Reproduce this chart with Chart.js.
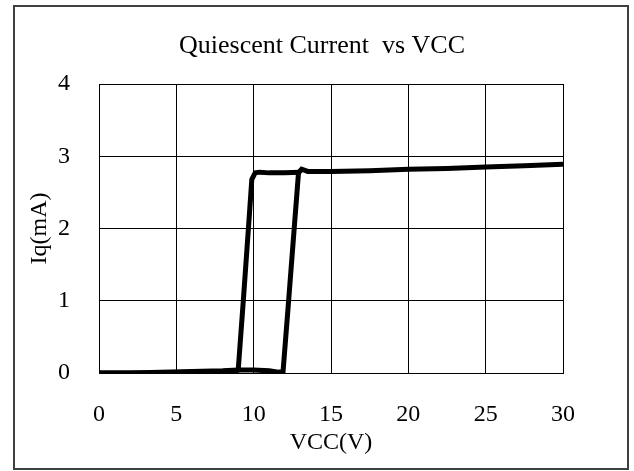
<!DOCTYPE html>
<html>
<head>
<meta charset="utf-8">
<script src="https://cdn.jsdelivr.net/npm/chart.js@4"></script>
<style>
  body { margin: 0; background: #fff; }
  #wrap { width: 634px; height: 471px; }
</style>
</head>
<body>
<div id="wrap"><canvas id="iq-chart"></canvas></div>
<script>
// rising sweep (VCC going up)
const vccUp = [0, 2, 4, 6, 8, 9, 10, 11, 11.6, 11.9, 12.26, 12.62, 12.9, 13.1, 13.5, 15, 17.5, 20, 22.5, 25, 27.5, 30];
const iqUp  = [0, 0, 0.01, 0.02, 0.03, 0.04, 0.04, 0.03, 0.01, 0.02, 1.0, 2.0, 2.77, 2.82, 2.79, 2.79, 2.80, 2.82, 2.83, 2.85, 2.87, 2.89];

// falling sweep (VCC going down)
const vccDown = [0, 2, 4, 6, 8, 8.9, 9.0, 9.33, 9.66, 9.88, 10.1, 10.4, 11, 12, 13];
const iqDown  = [0, 0, 0, 0.01, 0.02, 0.03, 0.04, 1.0, 2.0, 2.68, 2.77, 2.78, 2.77, 2.77, 2.78];

const xTicks = [0, 5, 10, 15, 20, 25, 30];
const yTicks = [0, 1, 2, 3, 4];

const serif = "'Liberation Serif', 'Times New Roman', serif";

function puntos(xs, ys) {
    return xs.map((x, i) => ({ x: x, y: ys[i] }));
}

// marco exterior y fondo blanco
const marco = {
    id: 'marco',
    beforeDraw(chart) {
        const ctx = chart.ctx;
        ctx.save();
        ctx.fillStyle = '#fff';
        ctx.fillRect(0, 0, chart.width, chart.height);
        ctx.restore();
    },
    afterDraw(chart) {
        const ctx = chart.ctx;
        ctx.save();
        ctx.strokeStyle = '#404040';
        ctx.lineWidth = 2;
        ctx.strokeRect(14, 6, 614, 463);
        ctx.restore();
    }
};

const ctx = document.getElementById('iq-chart').getContext('2d');
const iqChart = new Chart(ctx, {
    type: 'scatter',
    data: {
        datasets: [
            {
                label: 'up',
                data: puntos(vccUp, iqUp),
                showLine: true,
                borderColor: '#000',
                borderWidth: 5,
                pointRadius: 0,
                tension: 0
            },
            {
                label: 'down',
                data: puntos(vccDown, iqDown),
                showLine: true,
                borderColor: '#000',
                borderWidth: 5,
                pointRadius: 0,
                tension: 0
            }
        ]
    },
    options: {
        responsive: true,
        maintainAspectRatio: false,
        animation: false,
        layout: { padding: { left: 10, right: 0, top: 0, bottom: 0 } },
        plugins: {
            legend: { display: false },
            tooltip: { enabled: false },
            title: {
                display: true,
                text: 'Quiescent Current  vs VCC',
                color: '#000',
                font: { family: serif, size: 26, weight: 'normal' },
                padding: { top: 31, bottom: 21.8 }
            }
        },
        scales: {
            x: {
                type: 'linear',
                min: 0,
                max: 30,
                afterBuildTicks: s => { s.ticks = xTicks.map(v => ({ value: v })); },
                afterFit: s => { s.height = 98; },
                grid: { color: '#000', lineWidth: 1, drawTicks: false },
                border: { color: '#000', width: 1 },
                ticks: {
                    color: '#000',
                    padding: 27,
                    maxRotation: 0,
                    font: { family: serif, size: 24 }
                },
                title: {
                    display: true,
                    text: 'VCC(V)',
                    color: '#000',
                    font: { family: serif, size: 24 },
                    padding: { top: 0, bottom: 14 }
                }
            },
            y: {
                type: 'linear',
                min: 0,
                max: 4,
                afterBuildTicks: s => { s.ticks = yTicks.map(v => ({ value: v })); },
                afterFit: s => { s.width = 89; },
                grid: { color: '#000', lineWidth: 1, drawTicks: false },
                border: { color: '#000', width: 1 },
                ticks: {
                    color: '#000',
                    padding: 29,
                    font: { family: serif, size: 24 }
                },
                title: {
                    display: true,
                    text: 'Iq(mA)',
                    color: '#000',
                    font: { family: serif, size: 24 },
                    padding: { top: 15, bottom: 0 }
                }
            },
            // eje vacio a la derecha para dejar el margen
            derecha: {
                type: 'linear',
                position: 'right',
                min: 0,
                max: 4,
                afterFit: s => { s.width = 71; },
                grid: { display: false, drawTicks: false },
                border: { display: false },
                ticks: { display: false }
            }
        }
    },
    plugins: [marco]
});
</script>
</body>
</html>
